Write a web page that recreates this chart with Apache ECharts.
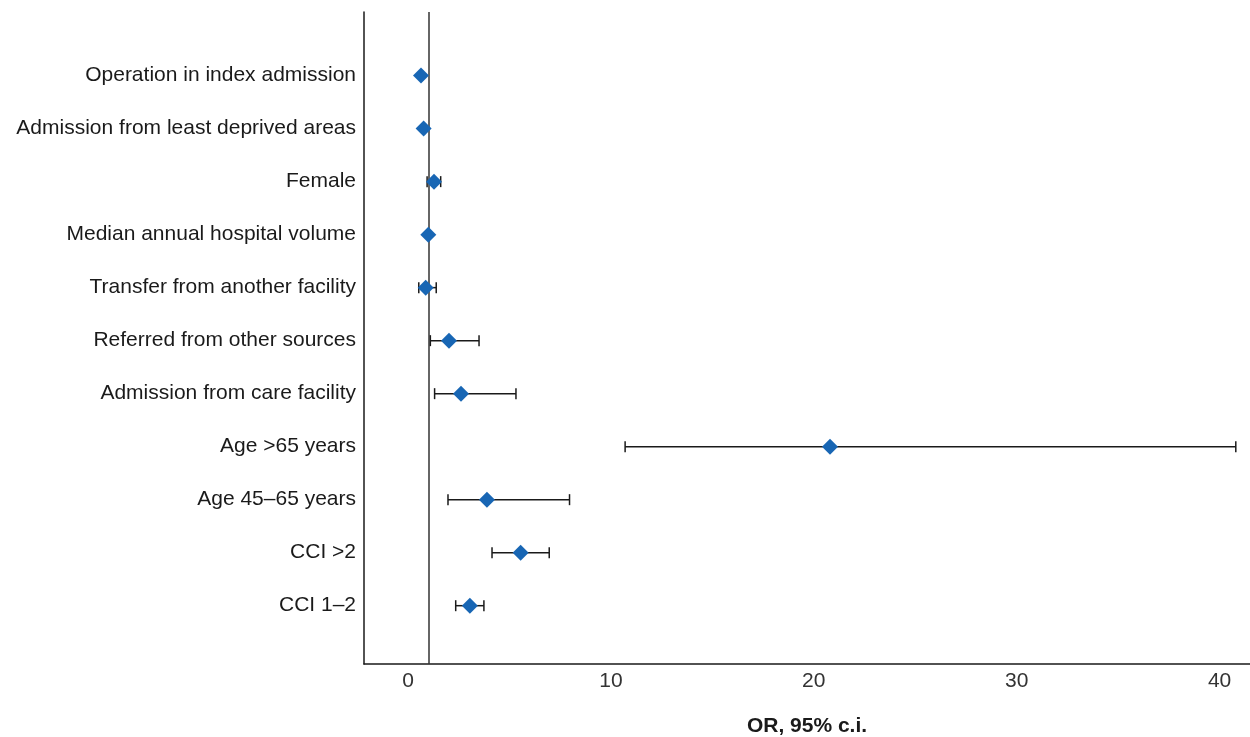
<!DOCTYPE html>
<html>
<head>
<meta charset="utf-8">
<script src="https://cdn.jsdelivr.net/npm/echarts@6/dist/echarts.min.js"></script>
<style>
  html, body { margin: 0; padding: 0; background: #fff; }
  #chart { width: 1250px; height: 737px; }
</style>
</head>
<body>
<div id="chart"></div>
<script>
// rows, top to bottom
const categories = [
  'Operation in index admission',
  'Admission from least deprived areas',
  'Female',
  'Median annual hospital volume',
  'Transfer from another facility',
  'Referred from other sources',
  'Admission from care facility',
  'Age >65 years',
  'Age 45–65 years',
  'CCI >2',
  'CCI 1–2'
]
const oddsRatio = [0.64, 0.77, 1.28, 1.0, 0.87, 2.02, 2.61, 20.8, 3.89, 5.55, 3.05]
const ciLower = [0.58, 0.70, 0.94, 0.98, 0.53, 1.10, 1.31, 10.7, 1.97, 4.14, 2.35]
const ciUpper = [0.71, 0.85, 1.61, 1.02, 1.39, 3.50, 5.32, 40.8, 7.96, 6.96, 3.74]
const xTickLabels = [0, 10, 20, 30, 40]

const n = categories.length
// y position: top row = n, bottom row = 1
const rowPos = (i) => n - i

const pointData = oddsRatio.map((v, i) => [v, rowPos(i)])
const barData = categories.map((c, i) => [ciLower[i], ciUpper[i], rowPos(i)])

const chart = echarts.init(document.getElementById('chart'))

const option = {
  animation: false,
  grid: {
    left: 364,
    right: 0,
    top: 12,
    bottom: 73,
    outerBoundsMode: 'none',
    containLabel: false
  },
  xAxis: {
    type: 'value',
    min: -2.17,
    max: 41.5,
    name: 'OR, 95% c.i.',
    nameLocation: 'middle',
    nameGap: 52,
    nameTextStyle: {
      fontFamily: 'Liberation Sans',
      fontSize: 21,
      fontWeight: 'bold',
      color: '#1a1a1a'
    },
    axisLine: { show: true, onZero: false, lineStyle: { color: '#1a1a1a', width: 1.5 } },
    axisTick: { show: false },
    splitLine: { show: false },
    axisLabel: {
      customValues: xTickLabels,
      fontFamily: 'Liberation Sans',
      fontSize: 21,
      color: '#333',
      margin: 7
    }
  },
  yAxis: {
    type: 'value',
    min: -0.1,
    max: 12.2,
    axisLine: { show: true, onZero: false, lineStyle: { color: '#1a1a1a', width: 1.5 } },
    axisTick: { show: false },
    splitLine: { show: false },
    axisLabel: {
      customValues: categories.map((c, i) => rowPos(i)),
      formatter: (v) => categories[n - v] || '',
      fontFamily: 'Liberation Sans',
      fontSize: 21,
      color: '#1a1a1a',
      margin: 8
    }
  },
  series: [
    {
      type: 'custom',
      silent: true,
      data: barData,
      encode: { x: [0, 1], y: 2 },
      renderItem: function (params, api) {
        const y = api.value(2)
        const lo = api.coord([api.value(0), y])
        const hi = api.coord([api.value(1), y])
        const h = 5.5
        const style = { stroke: '#1a1a1a', lineWidth: 1.5 }
        return {
          type: 'group',
          children: [
            { type: 'line', shape: { x1: lo[0], y1: lo[1], x2: hi[0], y2: hi[1] }, style: style },
            { type: 'line', shape: { x1: lo[0], y1: lo[1] - h, x2: lo[0], y2: lo[1] + h }, style: style },
            { type: 'line', shape: { x1: hi[0], y1: hi[1] - h, x2: hi[0], y2: hi[1] + h }, style: style }
          ]
        }
      },
      z: 2
    },
    {
      type: 'scatter',
      data: pointData,
      symbol: 'diamond',
      symbolSize: 16,
      itemStyle: { color: '#1866b4', opacity: 1 },
      z: 3,
      markLine: {
        silent: true,
        symbol: ['none', 'none'],
        label: { show: false },
        lineStyle: { color: '#333', width: 1.5, type: 'solid' },
        data: [{ xAxis: 1 }],
        z: 1
      }
    }
  ]
}

chart.setOption(option)
</script>
</body>
</html>
